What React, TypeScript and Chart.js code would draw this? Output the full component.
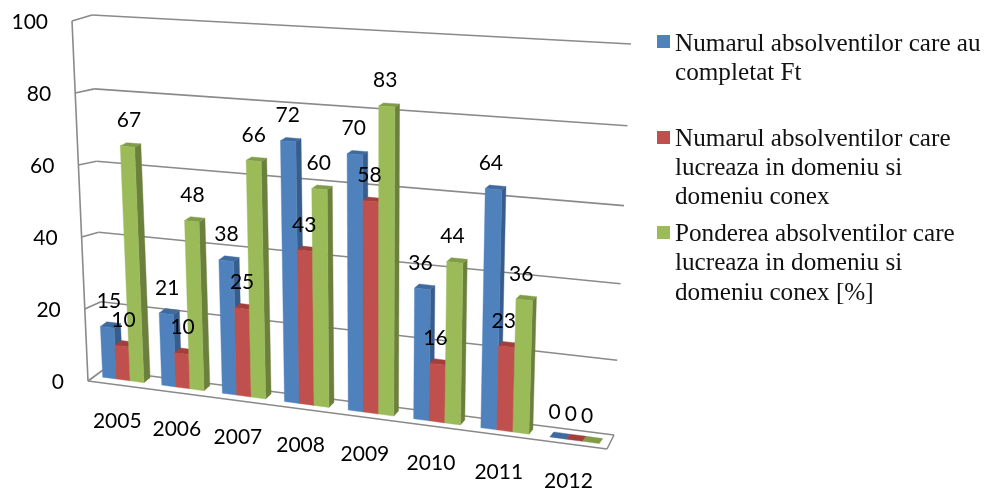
import { useEffect, useRef } from "react";
import { Chart, registerables } from "chart.js";

Chart.register(...registerables);

const categories = ["2005", "2006", "2007", "2008", "2009", "2010", "2011", "2012"];
const completed = [15, 21, 38, 72, 70, 36, 64, 0];
const employed = [10, 10, 25, 43, 58, 16, 23, 0];
const share = [67, 48, 66, 60, 83, 44, 36, 0];

const seriesNames = [
  "Numarul absolventilor care au completat Ft",
  "Numarul absolventilor care lucreaza in domeniu si domeniu conex",
  "Ponderea absolventilor care lucreaza in domeniu si domeniu conex [%]",
];
const legendLines = [
  ["Numarul absolventilor care au", "completat Ft"],
  ["Numarul absolventilor care", "lucreaza in domeniu si", "domeniu conex"],
  ["Ponderea absolventilor care", "lucreaza in domeniu si", "domeniu conex [%]"],
];
const legendBaselines = [[51, 80], [146, 175, 204], [241, 270, 300]];
const legendSwatchTop = [35, 131, 226];

const frontColors = ["#4F81BD", "#C0504D", "#9BBB59"];
const sideColors = ["#375D8C", "#8A3A38", "#6B803D"];
const topColors = ["#3F6A9E", "#A23F3D", "#809C48"];
const gridColor = "#8A8A8A";
const numberFont = "21px Lato";
const legendFont = "25.2px 'Liberation Serif'";

type P = [number, number];
// Maps the unit square to a quadrilateral: corners at (0,0), (1,0), (1,1), (0,1).
function homography(p0: P, p1: P, p2: P, p3: P) {
  const dx1 = p1[0] - p2[0], dx2 = p3[0] - p2[0], sx = p0[0] - p1[0] + p2[0] - p3[0];
  const dy1 = p1[1] - p2[1], dy2 = p3[1] - p2[1], sy = p0[1] - p1[1] + p2[1] - p3[1];
  const den = dx1 * dy2 - dx2 * dy1;
  const g = (sx * dy2 - dx2 * sy) / den;
  const h = (dx1 * sy - sx * dy1) / den;
  const a = p1[0] - p0[0] + g * p1[0], b = p3[0] - p0[0] + h * p3[0], c = p0[0];
  const d = p1[1] - p0[1] + g * p1[1], e = p3[1] - p0[1] + h * p3[1], f = p0[1];
  return (u: number, v: number): P => {
    const w = g * u + h * v + 1;
    return [(a * u + b * v + c) / w, (d * u + e * v + f) / w];
  };
}

const barPlane = homography([94, 376], [610, 445], [626, 53], [77, 21]);
const backWall = homography([103, 370], [614, 435], [631, 44], [92, 15]);
const wallFrontBottom: P = [88, 381];
const wallFrontTop: P = [72, 21];
const frontEdge = (v: number): P => [
  wallFrontBottom[0] + (wallFrontTop[0] - wallFrontBottom[0]) * v,
  wallFrontBottom[1] + (wallFrontTop[1] - wallFrontBottom[1]) * v,
];
const floorFrontRight: P = [607, 449];

function poly(ctx: CanvasRenderingContext2D, pts: P[], fill: string) {
  ctx.beginPath();
  pts.forEach((p, i) => (i ? ctx.lineTo(p[0], p[1]) : ctx.moveTo(p[0], p[1])));
  ctx.closePath();
  ctx.fillStyle = fill;
  ctx.fill();
  ctx.strokeStyle = fill;
  ctx.lineWidth = 0.4;
  ctx.stroke();
}

function line(ctx: CanvasRenderingContext2D, a: P, b: P) {
  ctx.beginPath();
  ctx.moveTo(a[0], a[1]);
  ctx.lineTo(b[0], b[1]);
  ctx.stroke();
}

const depth = (u: number, v: number): P => [6.5 - 3 * u, -5 + 2.5 * v];

const perspectivePlugin = {
  id: "perspective",
  beforeDatasetsDraw(chart: any) {
    const { ctx, chartArea: ca, scales } = chart;
    const toU = (px: number) => (px - ca.left) / (ca.right - ca.left);
    const toV = (py: number) => (ca.bottom - py) / (ca.bottom - ca.top);
    ctx.save();
    ctx.strokeStyle = gridColor;
    ctx.lineWidth = 1.6;
    for (const t of scales.y.ticks) {
      const v = toV(scales.y.getPixelForValue(t.value));
      line(ctx, frontEdge(v), backWall(0, v));
      line(ctx, backWall(0, v), backWall(1, v));
    }
    line(ctx, frontEdge(0), frontEdge(1));
    line(ctx, frontEdge(0), floorFrontRight);
    line(ctx, floorFrontRight, backWall(1, 0));

    categories.forEach((_, c) => {
      chart.data.datasets.forEach((_d: any, s: number) => {
        const bar = chart.getDatasetMeta(s).data[c];
        const uL = toU(bar.x - bar.width / 2);
        const uR = toU(bar.x + bar.width / 2);
        const vT = toV(bar.y);
        const vB = toV(bar.base);
        const bl = barPlane(uL, vB), br = barPlane(uR, vB);
        const tl = barPlane(uL, vT), tr = barPlane(uR, vT);
        const dT = depth(uR, vT), dB = depth(uR, vB), dL = depth(uL, vT);
        const shift = (p: P, d: P): P => [p[0] + d[0], p[1] + d[1]];
        if (vT > vB) poly(ctx, [br, tr, shift(tr, dT), shift(br, dB)], sideColors[s]);
        poly(ctx, [tl, tr, shift(tr, dT), shift(tl, dL)], topColors[s]);
        if (vT > vB) poly(ctx, [bl, br, tr, tl], frontColors[s]);
      });
    });
    ctx.restore();
    return false;
  },
  afterDraw(chart: any) {
    const { ctx, chartArea: ca, scales } = chart;
    const toU = (px: number) => (px - ca.left) / (ca.right - ca.left);
    const toV = (py: number) => (ca.bottom - py) / (ca.bottom - ca.top);
    ctx.save();
    ctx.fillStyle = "#000";
    ctx.font = numberFont;
    ctx.textBaseline = "middle";

    ctx.textAlign = "right";
    for (const t of scales.y.ticks) {
      const p = frontEdge(toV(scales.y.getPixelForValue(t.value)));
      ctx.fillText(String(t.value), p[0] - 24, p[1] + 1);
    }

    ctx.textAlign = "center";
    scales.x.ticks.forEach((t: any, i: number) => {
      const p = barPlane(toU(scales.x.getPixelForTick(i)), 0);
      ctx.fillText(categories[t.value] ?? t.label, p[0] - 6, p[1] + 41);
    });

    chart.data.datasets.forEach((d: any, s: number) => {
      chart.getDatasetMeta(s).data.forEach((bar: any, c: number) => {
        const u = toU(bar.x);
        const p = barPlane(u, toV(bar.y));
        ctx.fillText(String(d.data[c]), p[0] + 2 - 6 * u, p[1] - 26);
      });
    });

    ctx.font = legendFont;
    ctx.textAlign = "left";
    ctx.textBaseline = "alphabetic";
    legendLines.forEach((lines, s) => {
      ctx.fillStyle = frontColors[s];
      ctx.fillRect(657, legendSwatchTop[s], 13, 13);
      ctx.fillStyle = "#111";
      lines.forEach((text, i) => ctx.fillText(text, 675, legendBaselines[s][i]));
    });
    ctx.restore();
  },
};

export default function App() {
  const ref = useRef<HTMLCanvasElement>(null);
  useEffect(() => {
    const chart = new Chart(ref.current as HTMLCanvasElement, {
      type: "bar",
      data: {
        labels: categories,
        datasets: [completed, employed, share].map((data, i) => ({
          label: seriesNames[i],
          data,
          backgroundColor: frontColors[i],
          categoryPercentage: 0.7,
          barPercentage: 1,
        })),
      },
      options: {
        animation: false,
        responsive: false,
        layout: { padding: { left: 90, right: 366, top: 20, bottom: 50 } },
        plugins: { legend: { display: false }, tooltip: { enabled: false } },
        scales: {
          x: { grid: { display: false }, border: { display: false }, ticks: { display: false } },
          y: {
            min: 0,
            max: 100,
            grid: { display: false },
            border: { display: false },
            ticks: { display: false, stepSize: 20 },
          },
        },
      },
      plugins: [perspectivePlugin],
    } as any);
    return () => chart.destroy();
  }, []);
  return (
    <div style={{ position: "fixed", left: 0, top: 0, width: 986, height: 491, background: "#fff" }}>
      <canvas ref={ref} width={986} height={491} style={{ display: "block" }} />
    </div>
  );
}
